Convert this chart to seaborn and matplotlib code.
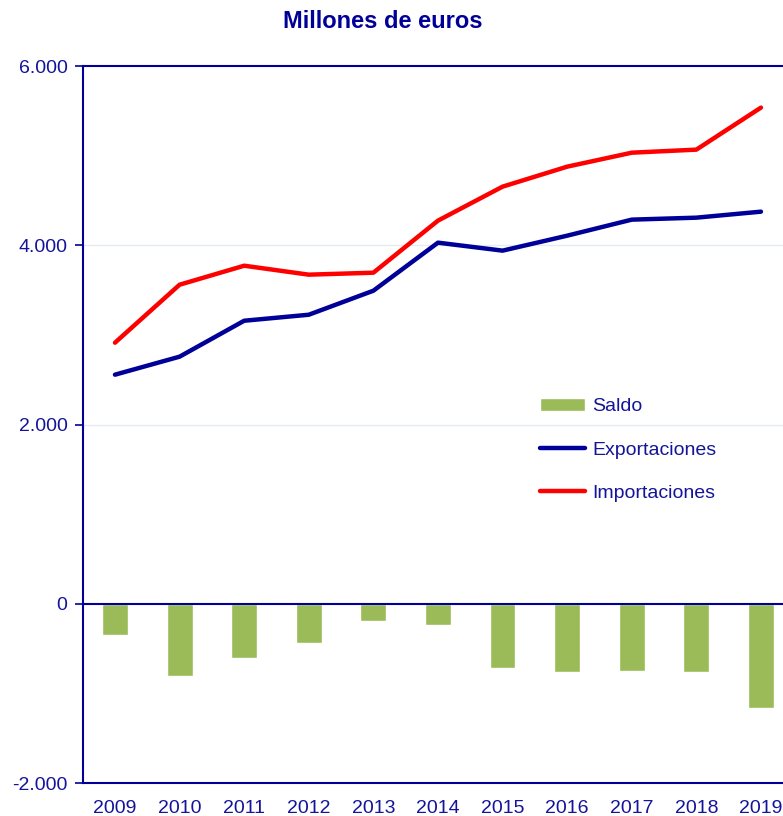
import matplotlib
matplotlib.use("Agg")
import matplotlib.pyplot as plt
import seaborn as sns
import pandas as pd
from matplotlib.ticker import FuncFormatter

# datos (millones de euros)
years = ["2009", "2010", "2011", "2012", "2013", "2014", "2015", "2016", "2017", "2018", "2019"]
exportaciones = [2556, 2757, 3158, 3225, 3493, 4029, 3940, 4107, 4286, 4308, 4375]
importaciones = [2913, 3560, 3772, 3672, 3694, 4275, 4654, 4877, 5033, 5067, 5536]
saldo = [-346, -804, -603, -435, -190, -234, -714, -759, -748, -759, -1161]

navy = "#000099"
txt = "#14149a"
verde = "#9bbb59"

df = pd.DataFrame({"year": years, "Saldo": saldo,
                   "Exportaciones": exportaciones, "Importaciones": importaciones})

sns.set_style("white")
plt.rcParams["font.family"] = ["Liberation Sans", "DejaVu Sans"]

fig = plt.figure(figsize=(7.83, 8.16), dpi=100)
ax = fig.add_axes([0.1056, 0.0404, 0.9075, 0.8787])

sns.barplot(data=df, x="year", y="Saldo", color=verde, width=0.4,
            saturation=1, ax=ax, label="Saldo", zorder=2)
sns.lineplot(data=df, x="year", y="Exportaciones", color=navy, linewidth=3.2,
             ax=ax, label="Exportaciones", zorder=3, solid_capstyle="round")
sns.lineplot(data=df, x="year", y="Importaciones", color="#ff0000", linewidth=3.2,
             ax=ax, label="Importaciones", zorder=3, solid_capstyle="round")

ax.set_xlim(-0.5, 10.5)
ax.set_ylim(-2000, 6000)
ax.set_yticks([-2000, 0, 2000, 4000, 6000])
ax.yaxis.set_major_formatter(FuncFormatter(lambda v, p: f"{int(v):,}".replace(",", ".")))
ax.set_xlabel("")
ax.set_ylabel("")

for y in [2000, 4000]:
    ax.axhline(y, color="#e6ebf2", linewidth=1, zorder=0)
ax.axhline(0, color=navy, linewidth=1.5, zorder=4)

for s in ["left", "top", "bottom"]:
    ax.spines[s].set_color(navy)
    ax.spines[s].set_linewidth(1.5)
ax.spines["right"].set_visible(False)

ax.tick_params(axis="y", colors=navy, labelcolor=txt, labelsize=14,
               length=6, width=1.2, direction="out", left=True, pad=5)
ax.tick_params(axis="x", labelcolor=txt, labelsize=14, length=0, pad=12)

handles, labels = ax.get_legend_handles_labels()
order = [labels.index(n) for n in ["Saldo", "Exportaciones", "Importaciones"]]
leg = ax.legend([handles[i] for i in order], [labels[i] for i in order],
                loc="upper left", bbox_to_anchor=(0.630, 0.551), frameon=False,
                fontsize=14, handlelength=2.3, handletextpad=0.4,
                labelspacing=1.33, borderpad=0)
for t in leg.get_texts():
    t.set_color(txt)

fig.text(0.489, 0.974, "Millones de euros", ha="center", va="center",
         fontsize=17, fontweight="bold", color=navy)

fig.savefig("out.png", dpi=100)
